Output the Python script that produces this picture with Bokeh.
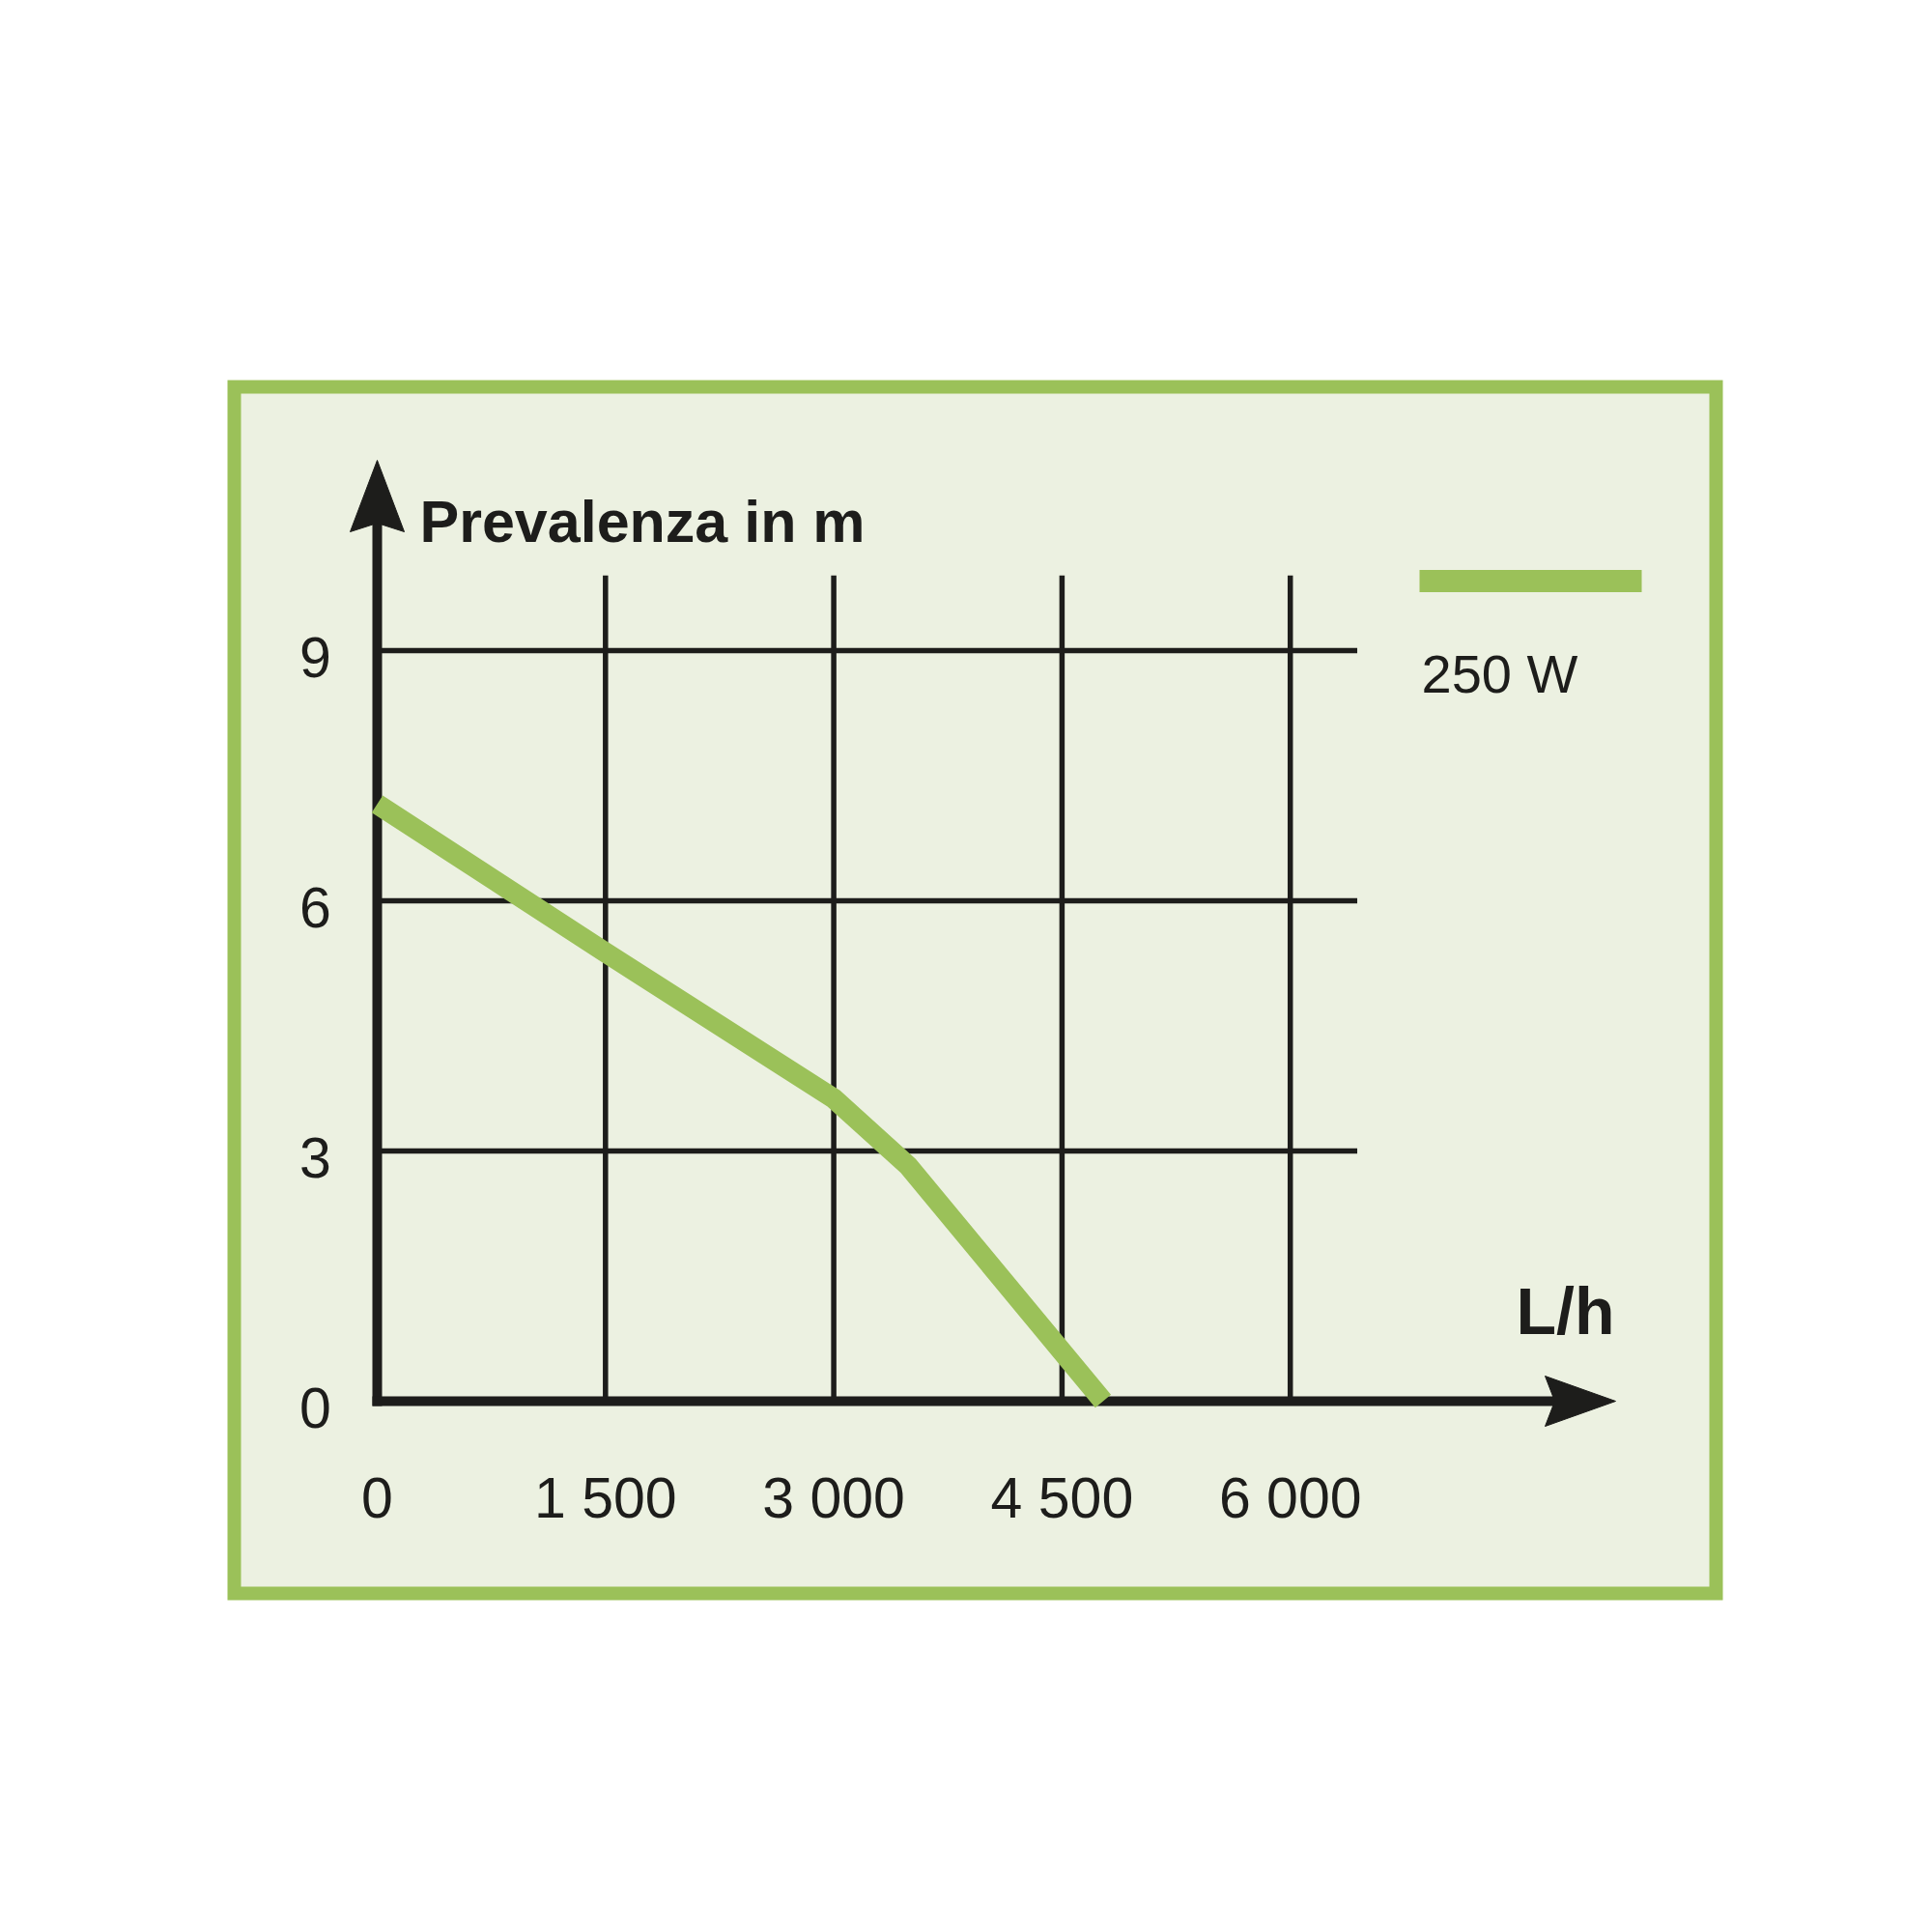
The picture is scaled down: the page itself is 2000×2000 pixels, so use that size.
from bokeh.plotting import figure
from bokeh.models import Range1d
from bokeh.core.properties import value
from bokeh.embed import file_html
from bokeh.resources import INLINE

# ---------------- data ----------------
flow = [0, 1500, 3000, 3490, 4770]          # L/h
head = [7.16, 5.38, 3.63, 2.82, 0.0]        # m
x_ticks = [0, 1500, 3000, 4500, 6000]
x_tick_labels = ["0", "1 500", "3 000", "4 500", "6 000"]
y_ticks = [0, 3, 6, 9]
y_tick_labels = ["0", "3", "6", "9"]
series_name = "250 W"
y_title = "Prevalenza in m"
x_title = "L/h"
grid_x_end = 6440
grid_y_end = 9.9

# ---------------- layout (page pixels) ----------------
W = H = 1980
OFF = 0
X0PX, Y0PX = 390.0, 1450.0
KX = 236.3 / 1500.0
KY = 86.33

def px(xp):
    return (xp - X0PX) / KX

def py(yp):
    return (Y0PX - yp) / KY

GREEN = "#9BC159"
FILL = "#ECF1E1"
DARK = "#1D1D1B"
FONT = "Liberation Sans"

p = figure(width=W, height=H, output_backend="svg", toolbar_location=None,
           x_range=Range1d(px(OFF), px(OFF + W)),
           y_range=Range1d(py(OFF + H), py(OFF)),
           x_axis_location=None, y_axis_location=None,
           min_border=0, outline_line_color=None,
           background_fill_color="white", border_fill_color="white")
p.grid.visible = False

# panel with green frame
p.quad(left=[px(242)], right=[px(1776)], top=[py(400)], bottom=[py(1649)],
       fill_color=FILL, line_color=GREEN, line_width=14, line_join="miter")

# grid lines
vx = x_ticks[1:]
p.segment(x0=vx, y0=[0] * len(vx), x1=vx, y1=[grid_y_end] * len(vx),
          line_color=DARK, line_width=5.5)
hy = y_ticks[1:]
p.segment(x0=[0] * len(hy), y0=hy, x1=[grid_x_end] * len(hy), y1=hy,
          line_color=DARK, line_width=5.5)

# axes lines
p.segment(x0=[0], y0=[py(Y0PX + 5)], x1=[0], y1=[py(536)],
          line_color=DARK, line_width=10)
p.segment(x0=[px(X0PX - 5)], y0=[0], x1=[px(1614)], y1=[0],
          line_color=DARK, line_width=10)

# arrow heads
p.patch(x=[px(390), px(418), px(390), px(362)],
        y=[py(476), py(550), py(541), py(550)],
        fill_color=DARK, line_color=DARK, line_width=1)
p.patch(x=[px(1672), px(1599), px(1609), px(1599)],
        y=[py(1450), py(1424), py(1450), py(1476)],
        fill_color=DARK, line_color=DARK, line_width=1)

# curve
p.line(flow, head, line_color=GREEN, line_width=21, line_join="miter", line_cap="butt")

# tick labels
p.text(x=x_ticks, y=[py(1550)] * len(x_ticks), text=x_tick_labels,
       text_font=value(FONT), text_font_size="59px", text_color=DARK,
       text_align="center", text_baseline="alphabetic")
p.text(x=[px(326)] * len(y_ticks), y=y_ticks, text=y_tick_labels,
       text_font=value(FONT), text_font_size="59px", text_color=DARK,
       text_align="center", text_baseline="alphabetic", y_offset=7)

# axis titles
p.text(x=[px(434)], y=[py(539)], text=[y_title],
       text_font=value(FONT), text_font_style="bold", text_font_size="61px",
       text_color=DARK, text_align="left", text_baseline="alphabetic")
p.text(x=[px(1569)], y=[py(1356)], text=[x_title],
       text_font=value(FONT), text_font_style="bold", text_font_size="68px",
       text_color=DARK, text_align="left", text_baseline="alphabetic")

# legend
p.segment(x0=[px(1469)], y0=[py(601)], x1=[px(1699)], y1=[py(601)],
          line_color=GREEN, line_width=23, line_cap="butt")
p.text(x=[px(1471)], y=[py(697)], text=[series_name],
       text_font=value(FONT), text_font_size="56px", text_color=DARK,
       text_align="left", text_baseline="alphabetic")

open("out.html", "w").write(file_html(p, INLINE))
